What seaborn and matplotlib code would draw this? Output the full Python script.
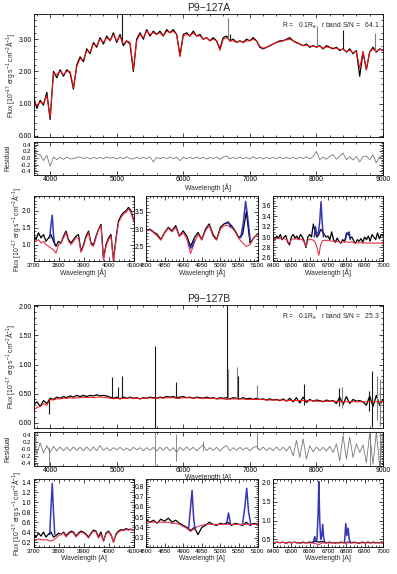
import numpy as np
import matplotlib
matplotlib.use('Agg')
import matplotlib.pyplot as plt
from matplotlib.ticker import MultipleLocator, FixedLocator, FixedFormatter
import seaborn as sns

# ---- main spectra, 50 A grid from 3750 to 9000 ----
wave_main = np.arange(3750, 9001, 50)

obs_a = [1.20, 0.85, 1.10, 0.95, 1.35, 0.50, 2.00, 1.80, 2.05, 1.85,
         2.05, 1.95, 1.45, 2.20, 2.45, 2.30, 2.70, 2.55, 2.90, 2.75,
         3.05, 2.85, 3.10, 2.95, 3.20, 2.90, 3.15, 2.80, 2.95, 2.85,
         2.00, 3.00, 3.20, 3.00, 3.30, 3.10, 3.25, 3.15, 3.25, 3.10,
         3.30, 3.20, 3.30, 3.15, 2.50, 3.15, 3.20, 3.10, 3.25, 3.10,
         3.15, 3.00, 3.05, 2.95, 3.05, 2.95, 2.70, 3.05, 3.10, 2.95,
         3.00, 2.90, 2.95, 2.90, 3.00, 2.95, 3.05, 2.95, 2.75, 2.70,
         2.75, 2.80, 2.85, 2.90, 2.95, 2.95, 3.00, 3.05, 2.95, 2.90,
         2.85, 2.80, 2.85, 2.75, 2.80, 2.75, 2.80, 2.70, 2.80, 2.75,
         2.70, 2.75, 2.65, 2.70, 2.60, 2.70, 2.55, 2.65, 1.85, 2.60,
         2.05, 2.60, 2.75, 2.60, 2.70, 2.65]
model_a = [1.05, 0.95, 1.05, 1.00, 1.25, 0.55, 1.95, 1.90, 2.00, 1.90,
           2.00, 2.00, 1.50, 2.15, 2.40, 2.35, 2.65, 2.60, 2.85, 2.80,
           3.00, 2.90, 3.05, 2.95, 3.15, 2.95, 3.10, 2.85, 2.95, 2.90,
           2.05, 2.95, 3.15, 3.05, 3.25, 3.15, 3.20, 3.15, 3.20, 3.10,
           3.25, 3.20, 3.25, 3.15, 2.45, 3.10, 3.15, 3.10, 3.20, 3.10,
           3.10, 3.00, 3.05, 2.95, 3.00, 2.95, 2.65, 3.00, 3.05, 2.95,
           2.95, 2.90, 2.95, 2.90, 2.95, 2.95, 3.00, 2.95, 2.78, 2.72,
           2.75, 2.80, 2.85, 2.90, 2.92, 2.95, 2.98, 3.00, 2.95, 2.88,
           2.85, 2.80, 2.82, 2.78, 2.78, 2.76, 2.78, 2.72, 2.76, 2.74,
           2.72, 2.72, 2.68, 2.68, 2.62, 2.66, 2.58, 2.62, 2.10, 2.62,
           2.05, 2.62, 2.70, 2.62, 2.68, 2.66]
resid_a = [0.25, 0.12, 0.10, -0.08, 0.08, -0.25, 0.03, -0.05, 0.02, -0.04,
           0.03, -0.03, -0.02, 0.02, 0.03, -0.02, 0.02, -0.03, 0.02, -0.02,
           0.02, -0.02, 0.03, -0.01, 0.02, -0.03, 0.02, -0.02, 0.04, -0.02,
           -0.03, 0.03, -0.02, 0.02, -0.02, 0.03, -0.12, 0.02, -0.02, 0.02,
           -0.02, 0.03, -0.02, 0.02, -0.08, 0.03, -0.02, 0.02, -0.02, 0.03,
           -0.02, 0.02, -0.03, 0.02, -0.02, 0.03, -0.04, 0.03, 0.06, -0.02,
           0.02, -0.02, 0.03, -0.02, 0.02, -0.03, 0.04, -0.02, 0.02, -0.03,
           0.02, -0.02, 0.02, -0.02, 0.03, -0.02, 0.02, -0.02, 0.02, -0.03,
           0.03, -0.02, 0.04, -0.03, 0.05, 0.20, -0.05, 0.03, -0.04, 0.05,
           0.10, -0.04, 0.06, 0.15, -0.05, 0.04, -0.06, 0.05, -0.12, 0.04,
           0.06, -0.05, 0.10, -0.15, 0.05, -0.03]
spike_a_w = [5080, 6665, 6700, 8010, 8400, 8880]
spike_a_lo = [2.85, 3.00, 2.95, 2.75, 2.70, 2.60]
spike_a_hi = [3.85, 3.65, 3.15, 3.40, 3.30, 3.20]
spike_a_c = ['k', 'grey', 'k', 'grey', 'k', 'grey']

obs_b = [0.30, 0.36, 0.28, 0.38, 0.33, 0.42, 0.40, 0.44, 0.42, 0.45,
         0.43, 0.46, 0.44, 0.47, 0.45, 0.47, 0.45, 0.47, 0.46, 0.48,
         0.46, 0.47, 0.46, 0.44, 0.42, 0.44, 0.41, 0.44, 0.42, 0.44,
         0.42, 0.43, 0.41, 0.43, 0.42, 0.44, 0.43, 0.42, 0.44, 0.43,
         0.45, 0.44, 0.45, 0.43, 0.44, 0.45, 0.43, 0.44, 0.42, 0.44,
         0.43, 0.42, 0.44, 0.42, 0.43, 0.41, 0.43, 0.42, 0.43, 0.41,
         0.43, 0.42, 0.41, 0.43, 0.41, 0.42, 0.40, 0.42, 0.40, 0.41,
         0.39, 0.41, 0.39, 0.40, 0.38, 0.41, 0.37, 0.42, 0.36, 0.43,
         0.34, 0.44, 0.35, 0.40, 0.37, 0.39, 0.38, 0.36, 0.39, 0.37,
         0.38, 0.33, 0.44, 0.31, 0.45, 0.33, 0.40, 0.37, 0.38, 0.36,
         0.30, 0.46, 0.28, 0.47, 0.30, 0.40]
model_b = [0.22, 0.26, 0.28, 0.33, 0.30, 0.40, 0.39, 0.41, 0.41, 0.42,
           0.42, 0.43, 0.42, 0.43, 0.43, 0.44, 0.43, 0.44, 0.43, 0.44,
           0.44, 0.44, 0.43, 0.42, 0.41, 0.42, 0.41, 0.42, 0.42, 0.43,
           0.42, 0.42, 0.41, 0.42, 0.42, 0.43, 0.42, 0.42, 0.43, 0.42,
           0.43, 0.43, 0.43, 0.42, 0.42, 0.43, 0.43, 0.43, 0.42, 0.43,
           0.42, 0.42, 0.42, 0.42, 0.42, 0.41, 0.41, 0.41, 0.40, 0.41,
           0.41, 0.41, 0.41, 0.41, 0.40, 0.40, 0.40, 0.40, 0.40, 0.40,
           0.39, 0.39, 0.39, 0.39, 0.39, 0.39, 0.38, 0.38, 0.38, 0.38,
           0.38, 0.38, 0.38, 0.38, 0.38, 0.37, 0.37, 0.37, 0.37, 0.37,
           0.37, 0.37, 0.36, 0.36, 0.36, 0.36, 0.36, 0.36, 0.36, 0.36,
           0.36, 0.36, 0.36, 0.36, 0.36, 0.36]
resid_b = [0.20, -0.15, 0.18, -0.12, 0.10, -0.10, 0.08, -0.06, 0.06, -0.05,
           0.05, -0.05, 0.06, -0.04, 0.05, -0.05, 0.06, -0.05, 0.06, -0.05,
           0.10, -0.04, 0.04, -0.05, 0.04, -0.03, 0.05, -0.04, 0.03, -0.05,
           0.05, -0.03, 0.04, -0.05, 0.04, -0.04, 0.05, -0.06, 0.05, -0.04,
           0.06, -0.05, 0.04, -0.10, 0.05, -0.04, 0.06, -0.03, 0.05, -0.05,
           0.04, 0.12, -0.05, 0.04, -0.04, 0.05, -0.06, 0.04, 0.10, -0.05,
           0.04, -0.04, 0.05, -0.03, 0.04, -0.05, 0.04, 0.08, -0.04, 0.06,
           -0.05, 0.04, -0.05, 0.06, -0.04, 0.05, -0.06, 0.08, -0.20, 0.25,
           -0.25, 0.30, -0.30, 0.10, -0.08, 0.06, -0.05, 0.05, -0.06, 0.08,
           -0.10, 0.15, -0.35, 0.40, -0.30, 0.35, -0.25, 0.15, -0.10, 0.12,
           -0.40, 0.45, -0.45, 0.50, -0.50, 0.45]
spike_b_w = [3760, 3990, 4925, 5025, 5072, 5577, 5890, 6650, 6675, 6812,
             6825, 7100, 7815, 8345, 8390, 8795, 8840, 8905, 8955]
spike_b_lo = [0.30, 0.15, 0.42, 0.42, 0.42, -0.10, 0.42, 0.42, 0.40, 0.40,
              0.40, 0.40, 0.30, 0.28, 0.25, 0.20, -0.08, 0.05, -0.05]
spike_b_hi = [1.42, 0.40, 0.78, 0.62, 0.80, 1.32, 0.70, 2.10, 0.92, 0.95,
              0.80, 0.64, 0.67, 0.60, 0.62, 0.55, 0.88, 0.80, 0.75]
spike_b_c = ['grey', 'k', 'k', 'k', 'k', 'k', 'k', 'k', 'grey', 'grey',
             'k', 'grey', 'k', 'k', 'grey', 'k', 'k', 'grey', 'grey']
rspike_b_w = [3770, 3985, 5577, 5890, 6300, 7100, 8800, 8950]
rspike_b_lo = [-0.10, -0.50, -0.50, -0.35, -0.05, 0.00, -0.50, -0.50]
rspike_b_hi = [0.50, 0.05, 0.50, 0.45, 0.25, 0.50, 0.50, 0.50]

# ---- zoom windows ----
wave_z1 = np.arange(3700, 4101, 10)
wave_z2 = np.arange(4800, 5101, 10)
wave_z3 = np.arange(6400, 7001, 10)

z1_obs_a = [1.30, 1.15, 1.35, 1.20, 1.30, 1.10, 1.20, 1.30, 1.10, 0.95,
            1.10, 1.05, 1.25, 1.40, 1.15, 1.05, 1.15, 1.25, 1.30, 0.80,
            1.00, 1.25, 1.40, 1.05, 1.00, 1.25, 1.45, 1.60, 0.60, 1.00,
            1.20, 1.30, 0.55, 1.20, 1.70, 1.85, 1.95, 2.00, 2.10, 2.00, 1.75]
z1_mod_a = [1.15, 1.10, 1.15, 1.05, 1.10, 1.00, 0.95, 0.90, 0.85, 0.75,
            1.00, 1.05, 1.20, 1.35, 1.10, 1.00, 1.10, 1.20, 1.20, 0.78,
            0.95, 1.20, 1.35, 1.00, 0.95, 1.20, 1.45, 1.55, 0.55, 0.95,
            1.15, 1.25, 0.50, 1.15, 1.65, 1.80, 1.90, 1.95, 2.05, 1.95, 1.70]
z1_em_a_w = [3765, 3770, 3775, 3780, 3785]
z1_em_a = [1.20, 1.60, 1.87, 1.30, 1.00]

z2_obs_a = [2.95, 3.00, 2.92, 2.85, 2.70, 2.90, 3.05, 2.95, 3.10, 2.80,
            2.95, 2.80, 2.50, 2.75, 2.90, 2.70, 3.00, 3.15, 2.85, 2.70,
            3.05, 3.15, 3.20, 3.10, 2.95, 2.75, 2.85, 3.50, 2.60, 2.75, 2.85]
z2_mod_a = [2.95, 2.98, 2.90, 2.80, 2.68, 2.88, 3.02, 2.92, 3.05, 2.78,
            2.90, 2.70, 2.30, 2.60, 2.85, 2.68, 2.95, 3.10, 2.80, 2.68,
            3.00, 3.10, 3.10, 3.05, 2.92, 2.72, 2.60, 2.50, 2.55, 2.75, 2.85]
z2_em_a_w = [[4915, 4920, 4925, 4930], [5015, 5022, 5028],
             [5055, 5062, 5068, 5074, 5080]]
z2_em_a = [[2.60, 2.45, 2.50, 2.70], [3.15, 3.20, 3.05],
           [2.75, 3.20, 3.80, 3.30, 2.70]]

z3_obs_a = [3.00, 2.95, 3.02, 2.98, 3.05, 2.95, 3.00, 3.03, 2.90, 2.85,
            3.00, 3.05, 2.98, 3.02, 2.95, 3.05, 3.00, 2.92, 2.80, 3.00,
            3.05, 3.00, 3.25, 3.10, 3.00, 3.05, 3.15, 3.10, 3.05, 3.00,
            3.02, 2.95, 3.10, 2.95, 2.90, 2.98, 2.92, 2.88, 2.95, 2.92,
            3.05, 3.08, 2.98, 3.00, 2.93, 2.88, 2.95, 2.92, 2.97, 2.90,
            3.00, 2.95, 3.02, 2.92, 3.05, 3.00, 2.95, 3.08, 2.97, 3.05, 3.02]
z3_mod_a = [2.97, 2.96, 2.98, 2.97, 2.98, 2.96, 2.97, 2.96, 2.92, 2.88,
            2.95, 2.97, 2.96, 2.97, 2.95, 2.96, 2.95, 2.90, 2.82, 2.94,
            2.96, 2.95, 2.94, 2.90, 2.80, 2.65, 2.85, 2.93, 2.94, 2.93,
            2.94, 2.93, 2.92, 2.92, 2.90, 2.92, 2.91, 2.90, 2.91, 2.90,
            2.91, 2.90, 2.90, 2.91, 2.89, 2.88, 2.90, 2.89, 2.90, 2.88,
            2.89, 2.88, 2.89, 2.88, 2.89, 2.88, 2.88, 2.89, 2.88, 2.88, 2.88]
z3_em_a_w = [[6625, 6632, 6638, 6648, 6655, 6662, 6668, 6675],
             [6795, 6802, 6808, 6815, 6822]]
z3_em_a = [[3.00, 3.20, 3.05, 3.10, 3.30, 3.68, 3.30, 3.00],
           [2.95, 3.08, 3.05, 3.10, 2.95]]

z1_obs_b = [0.35, 0.30, 0.38, 0.32, 0.40, 0.30, 0.36, 0.40, 0.30, 0.33,
            0.38, 0.35, 0.40, 0.33, 0.38, 0.42, 0.40, 0.32, 0.38, 0.42,
            0.40, 0.36, 0.30, 0.38, 0.44, 0.42, 0.30, 0.40, 0.22, 0.38,
            0.42, 0.35, 0.20, 0.36, 0.42, 0.45, 0.44, 0.47, 0.45, 0.46, 0.44]
z1_mod_b = [0.25, 0.24, 0.26, 0.25, 0.24, 0.25, 0.23, 0.22, 0.24, 0.28,
            0.33, 0.36, 0.38, 0.30, 0.36, 0.40, 0.38, 0.30, 0.36, 0.40,
            0.38, 0.34, 0.28, 0.36, 0.42, 0.40, 0.28, 0.36, 0.22, 0.36,
            0.40, 0.34, 0.20, 0.34, 0.40, 0.43, 0.43, 0.45, 0.44, 0.45, 0.44]
z1_em_b_w = [3765, 3770, 3775, 3780, 3785]
z1_em_b = [0.35, 0.90, 1.38, 0.80, 0.35]

z2_obs_b = [0.48, 0.45, 0.47, 0.44, 0.48, 0.46, 0.49, 0.45, 0.47, 0.44,
            0.42, 0.40, 0.37, 0.40, 0.33, 0.40, 0.42, 0.45, 0.43, 0.42,
            0.44, 0.43, 0.45, 0.42, 0.44, 0.43, 0.42, 0.45, 0.42, 0.44, 0.43]
z2_mod_b = [0.46, 0.45, 0.45, 0.45, 0.45, 0.45, 0.45, 0.44, 0.44, 0.43,
            0.41, 0.39, 0.36, 0.39, 0.41, 0.42, 0.43, 0.43, 0.43, 0.43,
            0.43, 0.43, 0.43, 0.43, 0.43, 0.43, 0.43, 0.43, 0.43, 0.43, 0.43]
z2_em_b_w = [[4915, 4920, 4924, 4928, 4932], [5017, 5022, 5027],
             [5060, 5066, 5071, 5076, 5082]]
z2_em_b = [[0.40, 0.60, 0.76, 0.50, 0.38], [0.44, 0.54, 0.44],
           [0.44, 0.60, 0.78, 0.55, 0.43]]

z3_obs_b = [0.42, 0.41, 0.43, 0.42, 0.41, 0.43, 0.42, 0.40, 0.42, 0.43,
            0.41, 0.42, 0.43, 0.41, 0.42, 0.40, 0.43, 0.42, 0.41, 0.42,
            0.43, 0.42, 0.43, 0.45, 0.44, 0.43, 0.44, 0.45, 0.42, 0.41,
            0.42, 0.43, 0.41, 0.42, 0.40, 0.42, 0.41, 0.43, 0.42, 0.41,
            0.42, 0.43, 0.42, 0.41, 0.43, 0.42, 0.41, 0.40, 0.42, 0.43,
            0.41, 0.42, 0.43, 0.41, 0.42, 0.43, 0.41, 0.42, 0.41, 0.43, 0.42]
z3_mod_b = [0.42, 0.42, 0.42, 0.42, 0.42, 0.42, 0.42, 0.41, 0.41, 0.42,
            0.41, 0.42, 0.42, 0.41, 0.41, 0.41, 0.41, 0.41, 0.41, 0.41,
            0.41, 0.41, 0.40, 0.39, 0.38, 0.36, 0.39, 0.41, 0.41, 0.41,
            0.41, 0.41, 0.41, 0.41, 0.41, 0.41, 0.41, 0.41, 0.41, 0.41,
            0.41, 0.41, 0.41, 0.41, 0.41, 0.41, 0.41, 0.41, 0.41, 0.41,
            0.41, 0.41, 0.41, 0.41, 0.41, 0.41, 0.41, 0.41, 0.41, 0.41, 0.41]
z3_em_b_w = [[6620, 6628, 6634, 6640, 6646, 6650, 6655, 6660, 6666, 6671, 6676, 6682],
             [6790, 6797, 6803, 6810, 6816, 6822]]
z3_em_b = [[0.43, 0.58, 0.45, 0.50, 1.20, 2.03, 1.00, 0.50, 0.60, 0.90, 0.55, 0.43],
           [0.44, 0.92, 0.60, 0.80, 0.50, 0.42]]

sns.set_theme(style='ticks')
plt.rcParams['font.family'] = ['Liberation Sans', 'DejaVu Sans']
plt.rcParams['mathtext.fontset'] = 'custom'
plt.rcParams['mathtext.rm'] = 'Liberation Sans'
plt.rcParams['mathtext.it'] = 'Liberation Sans'
plt.rcParams['axes.linewidth'] = 0.6
plt.rcParams['axes.edgecolor'] = 'black'
plt.rcParams['axes.unicode_minus'] = False

W, H = 397.0, 574.0
fig = plt.figure(figsize=(W / 100, H / 100), dpi=100)

FS = 4.9
FLUX = 'Flux [10$^{-17}$ erg s$^{-1}$ cm$^{-2}$Å$^{-1}$]'


def add_ax(l, t, r, b):
    return fig.add_axes([l / W, 1 - b / H, (r - l) / W, (b - t) / H])


def style(ax, xmaj, xmin, ymaj, ymin):
    ax.xaxis.set_major_locator(MultipleLocator(xmaj))
    ax.xaxis.set_minor_locator(MultipleLocator(xmin))
    ax.yaxis.set_major_locator(MultipleLocator(ymaj))
    ax.yaxis.set_minor_locator(MultipleLocator(ymin))
    ax.tick_params(which='both', direction='in', top=True, right=True,
                   labelsize=FS, pad=1.5, width=0.5, colors='black')
    ax.tick_params(which='major', length=3)
    ax.tick_params(which='minor', length=1.5)
    ax.set_xlabel('')
    ax.set_ylabel('')


def line(ax, x, y, color, lw, alpha=1.0):
    sns.lineplot(x=np.asarray(x), y=np.asarray(y), ax=ax, color=color, lw=lw,
                 alpha=alpha, estimator=None, sort=False, legend=False)


def main_panel(top, bottom, obs, mod, sw, slo, shi, sc, ylim, ymaj, ymin, fmt,
               title, sn):
    ax = add_ax(33.5, top, 383, bottom)
    line(ax, wave_main, obs, 'black', 0.9)
    ax.vlines(sw, slo, shi, colors=sc, lw=0.8)
    line(ax, wave_main, mod, '#ff1010', 0.7)
    ax.set_xlim(3750, 9000)
    ax.set_ylim(*ylim)
    style(ax, 1000, 200, ymaj, ymin)
    ax.yaxis.set_major_formatter(matplotlib.ticker.FormatStrFormatter(fmt))
    ax.tick_params(labelbottom=False)
    ax.set_title(title, fontsize=7.5, pad=1.5)
    ax.text(0.99, 0.9, 'R =   0.1R$_e$   r band S/N =   ' + sn,
            transform=ax.transAxes, ha='right', va='center', fontsize=FS)
    fig.text(4 / W, 1 - (top + bottom) / 2 / H, FLUX, rotation=90,
             ha='left', va='center', fontsize=FS)
    return ax


def resid_panel(top, bottom, res, xl, rw=None, rlo=None, rhi=None):
    ax = add_ax(33.5, top, 383, bottom)
    if rw is not None:
        ax.vlines(rw, rlo, rhi, colors='#888888', lw=0.7)
    line(ax, wave_main, res, '#777777', 0.6)
    ax.set_xlim(3750, 9000)
    ax.set_ylim(-0.5, 0.5)
    style(ax, 1000, 200, 0.2, 0.05)
    ax.yaxis.set_major_locator(FixedLocator([-0.4, -0.2, 0.0, 0.2, 0.4]))
    ax.yaxis.set_major_formatter(FixedFormatter(['-0.4', '-0.2', '-0.0', '0.2', '0.4']))
    ax.tick_params(axis='y', labelsize=4.3)
    ax.tick_params(axis='x', pad=1.0)
    ax.set_xlabel(xl, fontsize=FS, labelpad=0.0)
    fig.text(5 / W, 1 - (top + bottom) / 2 / H, 'Residual', rotation=90,
             ha='left', va='center', fontsize=FS)


def zoom_panel(l, r, top, bottom, w, obs, mod, ew, ef, xlim, ylim, xmaj, xmin,
               ymaj, ymin, xl):
    ax = add_ax(l, top, r, bottom)
    line(ax, w, obs, 'black', 0.9)
    line(ax, w, mod, '#e8304c', 0.8)
    for ww, ff in zip(ew, ef):
        line(ax, ww, ff, '#2020b0', 1.1, 0.9)
    ax.set_xlim(*xlim)
    ax.set_ylim(*ylim)
    style(ax, xmaj, xmin, ymaj, ymin)
    ax.tick_params(axis='x', labelsize=4.3)
    ax.set_xlabel(xl, fontsize=FS, labelpad=0.5)
    return ax


# ---- galaxy A ----
main_panel(13.5, 137, obs_a, model_a, spike_a_w, spike_a_lo, spike_a_hi, spike_a_c,
           (-0.04, 3.8), 1.0, 0.2, '%.2f', 'P9\u2212127A', '64.1')
resid_panel(141.5, 174.5, resid_a, 'Wavelength [Å]')
zoom_panel(33.5, 133.5, 196.5, 261, wave_z1, z1_obs_a, z1_mod_a, [z1_em_a_w], [z1_em_a],
           (3700, 4100), (0.52, 2.42), 100, 20, 0.5, 0.1, 'Wavelength [Å]')
zoom_panel(146, 257.5, 196.5, 261, wave_z2, z2_obs_a, z2_mod_a, z2_em_a_w, z2_em_a,
           (4800, 5100), (2.08, 3.94), 50, 10, 0.5, 0.1, 'Wavelength [Å]')
zoom_panel(273, 383, 196.5, 261, wave_z3, z3_obs_a, z3_mod_a, z3_em_a_w, z3_em_a,
           (6400, 7000), (2.54, 3.78), 100, 20, 0.2, 0.05, 'Wavelength [Å]')
fig.text(10 / W, 1 - 229 / H, FLUX, rotation=90, ha='left', va='center', fontsize=FS)

# ---- galaxy B ----
main_panel(304.5, 428, obs_b, model_b, spike_b_w, spike_b_lo, spike_b_hi, spike_b_c,
           (-0.09, 2.03), 0.5, 0.1, '%.2f', 'P9\u2212127B', '25.3')
resid_panel(432, 466, resid_b, 'Wavelength [A]', rspike_b_w, rspike_b_lo, rspike_b_hi)
zoom_panel(33.5, 133.5, 479, 547, wave_z1, z1_obs_b, z1_mod_b, [z1_em_b_w], [z1_em_b],
           (3700, 4100), (0.1, 1.47), 100, 20, 0.2, 0.05, 'Wavelength [A]')
zoom_panel(146, 257.5, 479, 547, wave_z2, z2_obs_b, z2_mod_b, z2_em_b_w, z2_em_b,
           (4800, 5100), (0.21, 0.87), 50, 10, 0.1, 0.02, 'Wavelength [A]')
zoom_panel(273, 383, 479, 547, wave_z3, z3_obs_b, z3_mod_b, z3_em_b_w, z3_em_b,
           (6400, 7000), (0.3, 2.1), 100, 20, 0.5, 0.1, 'Wavelength [A]')
fig.text(10 / W, 1 - 513 / H, FLUX, rotation=90, ha='left', va='center', fontsize=FS)

fig.savefig('out.png', dpi=100)
